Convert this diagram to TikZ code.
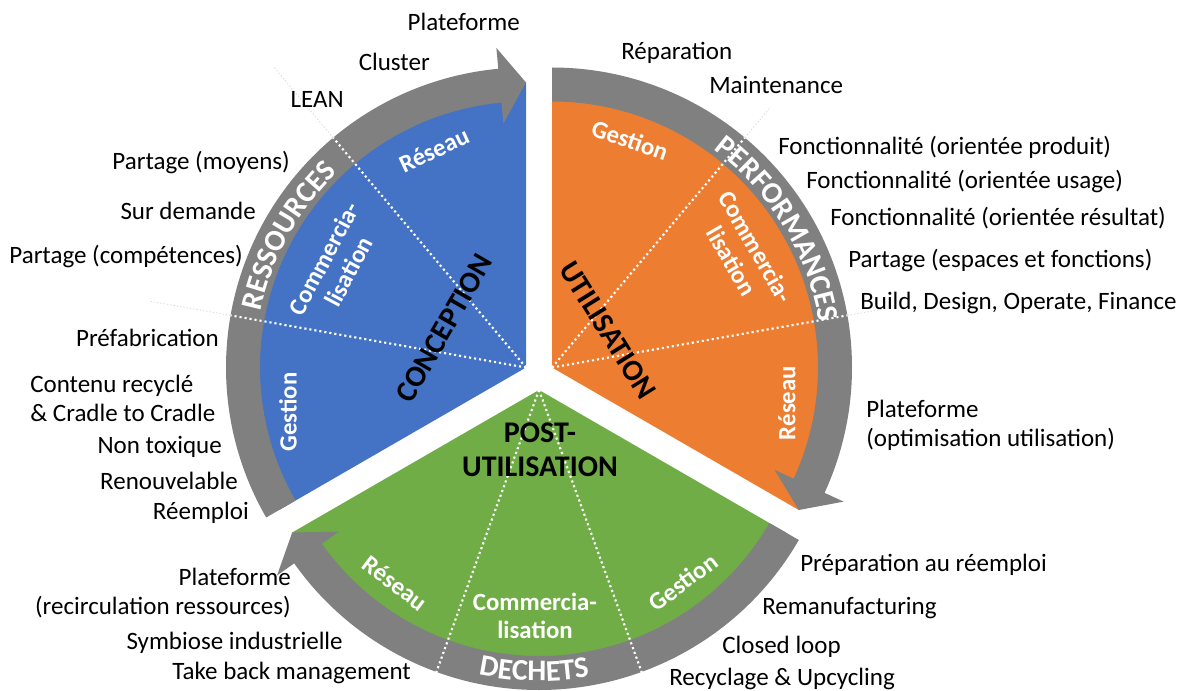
\documentclass[tikz,border=0pt]{standalone}
\usepackage{fontspec}
\setmainfont{Carlito}
\usetikzlibrary{decorations.text}
\definecolor{cBlue}{HTML}{4472C4}
\definecolor{cOrange}{HTML}{ED7D31}
\definecolor{cGreen}{HTML}{70AD47}
\definecolor{cGray}{HTML}{808080}

\begin{document}
\begin{tikzpicture}[x=0.75pt, y=0.75pt,
    lbl/.style={font=\fontsize{18.75}{21.75}\selectfont, inner sep=0pt},
    inlbl/.style={text=white, font=\fontsize{18.6}{21}\selectfont\bfseries, inner sep=0pt, align=center},
    biglbl/.style={font=\fontsize{22.5}{25.5}\selectfont\bfseries, inner sep=0pt, align=center},
    sepline/.style={white, line width=1.6pt, dash pattern=on 1.6pt off 2.2pt},
    faintline/.style={gray!30, line width=0.6pt, dash pattern=on 1pt off 1.5pt},
    ringtxt/.style={decorate, decoration={text along path, text align=center,
        text color=white, text={|\fontsize{22.5}{22.5}\selectfont\bfseries|#1}}}
]
    \useasboundingbox (0,0) rectangle (1184,690);
    % conception
    \begin{scope}[shift={(526,322.5)}]
        \fill[cBlue] (0,0) -- (90:285) arc (90:210:285) -- cycle;
        \fill[cGray] (210:266) -- (210:300) arc (210:95.3:300) -- (95.3:321) -- (90:285)
            -- (95.3:245) -- (95.3:266) arc (95.3:210:266) -- cycle;
        \draw[sepline] (0,0) -- (130:300);
        \draw[sepline] (0,0) -- (170:300);
        \draw[faintline] (130:300) -- (130:392);
        \draw[faintline] (170:300) -- (170:382);
        \path[ringtxt=RESSOURCES] (169:271) arc (169:133:271);
    \end{scope}
    % utilisation
    \begin{scope}[shift={(552,322.5)}]
        \fill[cOrange] (0,0) -- (90:285) arc (90:-30:285) -- cycle;
        \fill[cGray] (90:266) -- (90:300) arc (90:-24.7:300) -- (-24.7:321) -- (-30:285)
            -- (-24.7:245) -- (-24.7:266) arc (-24.7:90:266) -- cycle;
        \draw[sepline] (0,0) -- (50:300);
        \draw[sepline] (0,0) -- (10:300);
        \draw[faintline] (50:300) -- (50:340);
        \draw[faintline] (10:300) -- (10:335);
        \path[ringtxt=PERFORMANCES] (53:271) arc (53:10:271);
    \end{scope}
    % post-utilisation
    \begin{scope}[shift={(539,300)}]
        \fill[cGreen] (0,0) -- (210:285) arc (210:330:285) -- cycle;
        \fill[cGray] (330:266) -- (330:300) arc (330:215.3:300) -- (215.3:321) -- (210:285)
            -- (215.3:245) -- (215.3:266) arc (215.3:330:266) -- cycle;
        \draw[sepline] (0,0) -- (250:310);
        \draw[sepline] (0,0) -- (290:310);
        \path[ringtxt=DECHETS] (253:291) arc (253:285:291);
    \end{scope}

    \node[biglbl, rotate=60] (conc) at (444,362) {CONCEPTION};
    \node[biglbl, rotate=-58] (util) at (608,360) {UTILISATION};
    \node[biglbl] (post) at (540,240) {POST-\\UTILISATION};

    \node[inlbl, rotate=25] (bRes) at (434,540) {Réseau};
    \node[inlbl, rotate=62] (bCom) at (336,425) {Commercia-\\lisation};
    \node[inlbl, rotate=90] (bGes) at (288,278) {Gestion};
    \node[inlbl, rotate=-19] (oGes) at (630,550) {Gestion};
    \node[inlbl, rotate=-60] (oCom) at (744,436) {Commercia-\\lisation};
    \node[inlbl, rotate=90] (oRes) at (787,287) {Réseau};
    \node[inlbl, rotate=-37] (gRes) at (395,107) {Réseau};
    \node[inlbl] (gCom) at (535,74) {Commercia-\\lisation};
    \node[inlbl, rotate=37] (gGes) at (683,108) {Gestion};

    % ressources
    \node[lbl, left] (r1) at (520,668) {Plateforme};
    \node[lbl, left] (r2) at (430,628) {Cluster};
    \node[lbl, left] (r3) at (344,591) {LEAN};
    \node[lbl, left] (r4) at (290,527) {Partage (moyens)};
    \node[lbl, left] (r5) at (256,479) {Sur demande};
    \node[lbl, left] (r6) at (243,433) {Partage (compétences)};
    \node[lbl, left] (r7) at (219,352) {Préfabrication};
    \node[lbl, right, align=left] (r8) at (30,291.5) {Contenu recyclé\\\& Cradle to Cradle};
    \node[lbl, left] (r9) at (222,243) {Non toxique};
    \node[lbl, left] (r10) at (238,209) {Renouvelable};
    \node[lbl, left] (r11) at (249,177) {Réemploi};
    % performances
    \node[lbl, right] (p1) at (621,637) {Réparation};
    \node[lbl, right] (p2) at (709,605) {Maintenance};
    \node[lbl, right] (p3) at (778,543) {Fonctionnalité (orientée produit)};
    \node[lbl, right] (p4) at (806,508) {Fonctionnalité (orientée usage)};
    \node[lbl, right] (p5) at (830,472) {Fonctionnalité (orientée résultat)};
    \node[lbl, right] (p6) at (848,429) {Partage (espaces et fonctions)};
    \node[lbl, right] (p7) at (860,387) {Build, Design, Operate, Finance};
    \node[lbl, right, align=left] (p8) at (866,264.5) {Plateforme\\(optimisation utilisation)};
    % dechets
    \node[lbl, right] (d1) at (800,125) {Préparation au réemploi};
    \node[lbl, right] (d2) at (762,82) {Remanufacturing};
    \node[lbl, right] (d3) at (722,43) {Closed loop};
    \node[lbl, right] (d4) at (669,11) {Recyclage \& Upcycling};
    \node[lbl, left, align=right] (d5) at (291,96.5) {Plateforme\\(recirculation ressources)};
    \node[lbl, left] (d6) at (343,47) {Symbiose industrielle};
    \node[lbl, left] (d7) at (411,17) {Take back management};
\end{tikzpicture}
\end{document}
